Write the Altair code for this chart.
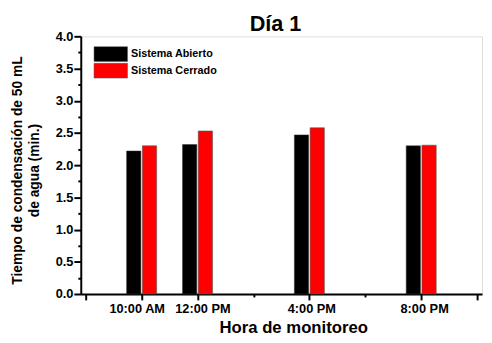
import altair as alt
import pandas as pd

horas = [10, 12, 16, 20]
abierto = [2.22, 2.32, 2.47, 2.30]
cerrado = [2.30, 2.53, 2.58, 2.31]
series = ["Sistema Abierto", "Sistema Cerrado"]
colores = ["black", "#FF0000"]
etiquetas = {10: "10:00 AM", 12: "12:00 PM", 16: "4:00 PM", 20: "8:00 PM"}

rows = []
for h, a, c in zip(horas, abierto, cerrado):
    rows.append({"hora": h, "valor": a, "sistema": series[0]})
    rows.append({"hora": h, "valor": c, "sistema": series[1]})
df = pd.DataFrame(rows)

FONT = "Liberation Sans"
label_expr = " : ".join(
    [f"datum.value == {k} ? '{v}'" for k, v in etiquetas.items()]
) + " : ''"

x_enc = alt.X(
    "hora:Q",
    scale=alt.Scale(domain=[8, 22], nice=False, zero=False),
    axis=alt.Axis(
        values=[8, 10, 12, 14, 16, 18, 20, 22],
        labelExpr=label_expr,
        title="Hora de monitoreo",
        titleFontSize=17,
        titleFont=FONT,
        titleFontWeight="bold",
        titlePadding=4,
        titleX=216,
        labelFontSize=13,
        labelFont=FONT,
        labelFontWeight="bold",
        labelPadding=3,
        labelColor="black",
        labelOffset={"condition": [
            {"test": "datum.value == 10", "value": -5},
            {"test": "datum.value == 12", "value": 5},
            {"test": "datum.value == 16", "value": 2},
        ], "value": 3},
        tickSize={"condition": {"test": "datum.value == 14 || datum.value == 18", "value": 3}, "value": 6},
        tickWidth=2,
        tickColor="black",
        domainColor="black",
        domainWidth=2,
        grid=False,
        labelFlush=False,
        labelOverlap=False,
    ),
)

y_enc = alt.Y(
    "valor:Q",
    scale=alt.Scale(domain=[0, 4], nice=False),
    axis=alt.Axis(
        values=[i * 0.25 for i in range(17)],
        labelExpr="(datum.value * 2) % 1 == 0 ? format(datum.value, '.1f') : ''",
        title=["Tiempo de condensación de 50 mL", "de agua (min.)"],
        titleFontSize=14,
        titleFont=FONT,
        titleFontWeight="bold",
        titleLineHeight=17,
        titlePadding=14,
        titleY=136,
        labelFontSize=13,
        labelFont=FONT,
        labelFontWeight="bold",
        labelPadding=1,
        labelColor="black",
        tickSize={"condition": {"test": "(datum.value * 2) % 1 != 0", "value": 3}, "value": 7},
        tickWidth=2,
        tickColor="black",
        domainColor="black",
        domainWidth=2,
        grid=False,
        labelOverlap=False,
    ),
)

color_enc = alt.Color(
    "sistema:N",
    scale=alt.Scale(domain=series, range=colores),
    legend=alt.Legend(
        title=None,
        orient="none",
        legendX=22.5,
        legendY=10,
        symbolType="M-2.27,-1L2.27,-1L2.27,1L-2.27,1Z",
        symbolSize=225,
        symbolStrokeColor="#555",
        symbolStrokeWidth=0.5,
        symbolOpacity=1,
        labelFontSize=11,
        labelFont=FONT,
        labelFontWeight="bold",
        labelColor="black",
        labelOffset=12.5,
        rowPadding=-2.5,
        padding=0,
    ),
)

base = alt.Chart(df).encode(x=x_enc, y=y_enc, color=color_enc)

b1 = base.transform_filter(f"datum.sistema == '{series[0]}'").mark_bar(
    width=14.5, xOffset=-8, stroke="#333", strokeWidth=0.5, opacity=1
)
b2 = base.transform_filter(f"datum.sistema == '{series[1]}'").mark_bar(
    width=14.5, xOffset=8, stroke="#555", strokeWidth=0.6, opacity=1
)

chart = (
    alt.layer(b1, b2)
    .properties(
        width=408,
        height=262,
        autosize=alt.AutoSizeParams(type="none"),
        padding={"left": 74, "top": 26, "right": 2, "bottom": 45},
        title=alt.TitleParams(
            "Día 1", fontSize=22, font=FONT, fontWeight="bold", color="black",
            anchor="middle", dx=-6, offset=-6,
        ),
    )
    .configure_view(stroke="black", strokeWidth=2)
    .configure(background="white")
)

chart.save("out.html", embed_options={"renderer": "svg", "actions": False})
